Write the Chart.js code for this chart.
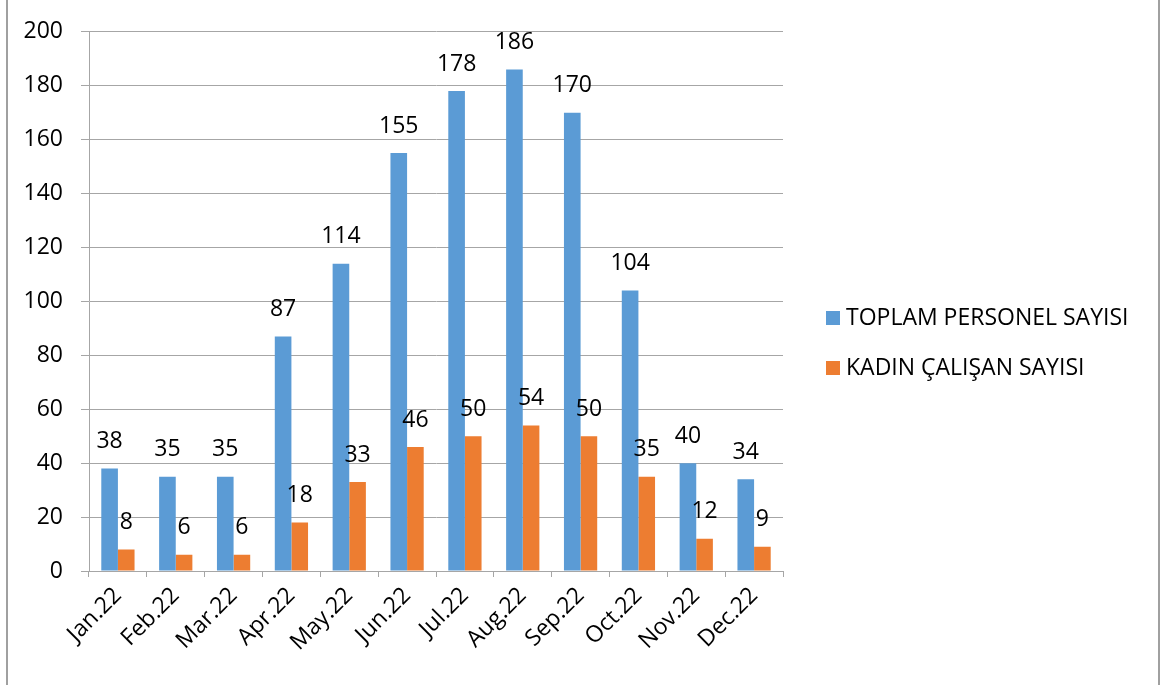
<!DOCTYPE html>
<html>
<head>
<meta charset="utf-8">
<script src="https://cdn.jsdelivr.net/npm/chart.js@4/dist/chart.umd.min.js"></script>
<style>
  html, body { margin: 0; padding: 0; background: #ffffff; }
  #c { display: block; }
</style>
</head>
<body>
<canvas id="c" width="1164" height="685"></canvas>
<script>
const months = ['Jan.22','Feb.22','Mar.22','Apr.22','May.22','Jun.22','Jul.22','Aug.22','Sep.22','Oct.22','Nov.22','Dec.22'];
const totalStaff = [38,35,35,87,114,155,178,186,170,104,40,34];
const womenStaff = [8,6,6,18,33,46,50,54,50,35,12,9];
const seriesNames = ['TOPLAM PERSONEL SAYISI','KADIN ÇALIŞAN SAYISI'];
const yTicks = [0,20,40,60,80,100,120,140,160,180,200];

const FONT = '"Open Sans", "Noto Sans", sans-serif';
const FSIZE = 23;
const GRID = '#a6a6a6';

const frame = {
  id: 'frame',
  beforeDraw(chart) {
    const ctx = chart.ctx;
    ctx.save();
    ctx.fillStyle = '#ffffff';
    ctx.fillRect(0, 0, chart.width, chart.height);
    ctx.strokeStyle = '#a0a0a0';
    ctx.lineWidth = 2;
    ctx.beginPath();
    ctx.moveTo(7, 0); ctx.lineTo(7, chart.height);
    ctx.moveTo(1159, 0); ctx.lineTo(1159, chart.height);
    ctx.stroke();
    ctx.restore();
  }
};

const valueLabels = {
  id: 'valueLabels',
  afterDatasetsDraw(chart) {
    const ctx = chart.ctx;
    ctx.save();
    ctx.font = FSIZE + 'px ' + FONT;
    ctx.fillStyle = '#000000';
    ctx.textAlign = 'center';
    ctx.textBaseline = 'middle';
    chart.data.datasets.forEach((ds, i) => {
      const meta = chart.getDatasetMeta(i);
      meta.data.forEach((bar, j) => {
        ctx.fillText(String(ds.data[j]), bar.x, bar.y - 27);
      });
    });
    ctx.restore();
  }
};

const sideLegend = {
  id: 'sideLegend',
  afterDraw(chart) {
    const ctx = chart.ctx;
    ctx.save();
    ctx.font = FSIZE + 'px ' + FONT;
    ctx.textAlign = 'left';
    ctx.textBaseline = 'middle';
    chart.data.datasets.forEach((ds, i) => {
      const y = 318 + i * 50;
      ctx.fillStyle = ds.backgroundColor;
      ctx.fillRect(826, y - 7, 14, 14);
      ctx.fillStyle = '#000000';
      ctx.fillText(ds.label, 846, y);
    });
    ctx.restore();
  }
};

new Chart(document.getElementById('c'), {
  type: 'bar',
  data: {
    labels: months,
    datasets: [
      { label: seriesNames[0], data: totalStaff, backgroundColor: '#5b9bd5', categoryPercentage: 0.575, barPercentage: 1.0 },
      { label: seriesNames[1], data: womenStaff, backgroundColor: '#ed7d31', categoryPercentage: 0.575, barPercentage: 1.0 }
    ]
  },
  options: {
    responsive: false,
    animation: false,
    devicePixelRatio: 1,
    layout: { padding: { left: 0, top: 29, right: 381, bottom: 0 } },
    plugins: {
      legend: { display: false },
      tooltip: { enabled: false }
    },
    scales: {
      x: {
        grid: { display: true, drawOnChartArea: false, drawTicks: true, tickLength: 6, color: GRID, offset: true },
        border: { display: true, color: GRID, width: 1 },
        ticks: { color: '#000', font: { family: FONT, size: FSIZE }, minRotation: 45, maxRotation: 45, padding: 5, autoSkip: false },
        afterFit(scale) { scale.height = 114; }
      },
      y: {
        min: 0, max: 200,
        afterBuildTicks(scale) { scale.ticks = yTicks.map(v => ({ value: v })); },
        grid: { color: GRID, tickLength: 8, drawTicks: true },
        border: { display: true, color: GRID, width: 1 },
        ticks: { color: '#000', font: { family: FONT, size: FSIZE }, padding: 18 },
        afterFit(scale) { scale.width = 89; }
      }
    }
  },
  plugins: [frame, valueLabels, sideLegend]
});
</script>
</body>
</html>
